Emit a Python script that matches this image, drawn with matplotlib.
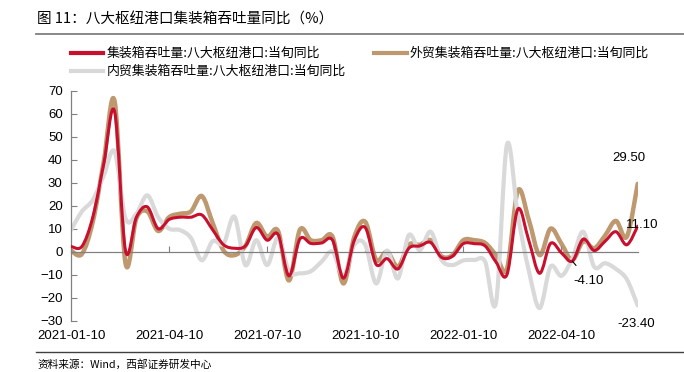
import numpy as np
import pandas as pd
import matplotlib
matplotlib.use("Agg")
import matplotlib.pyplot as plt
from matplotlib.path import Path
from matplotlib.patches import PathPatch
from matplotlib.lines import Line2D

plt.rcParams['font.family'] = ['Liberation Sans', 'Noto Sans CJK SC', 'DejaVu Sans']
CJK = ['Noto Sans CJK SC', 'DejaVu Sans']

# ----------------------------------------------------
# Data (当旬同比, %)
# ----------------------------------------------------

dates = [d.strftime("%Y-%m-%d") for m in pd.period_range("2021-01", "2022-06", freq="M")
         for d in (m.start_time + pd.Timedelta(days=9), m.start_time + pd.Timedelta(days=19), m.end_time.normalize())][:53]

tick_labels = ["2021-01-10", "2021-04-10", "2021-07-10", "2021-10-10", "2022-01-10", "2022-04-10"]

red = [2.3, 2.3, 15, 38, 61, 0.5, 15, 19.5, 10, 14,
       15, 15, 16, 9.5, 3, 1.5, 2.5, 10.5, 5, 7.5,
       -10.5, 5.5, 3.6, 3.8, 5, -11.5, 5, 10.5, -5.5, -3,
       -7.5, 1.5, 2.5, 4, -2.5, -2, 3.5, 3.5, 2.5, -4.5,
       -10, 18.5, 5, -9.4, 3.6, -0.5, -4.1, 5.5, 0.5, 4.5,
       8.7, 3, 11.1]

tan = [0.5, -1, 13, 39, 65.5, -5, 14.5, 17.5, 9, 15,
       16.5, 17.5, 24.2, 12.5, 0.5, -1.5, 2.5, 12.5, 6.5, 9,
       -12.5, 9.5, 5, 5, 6.5, -13.8, 6.5, 13, -3.5, 0,
       -6.5, 3, 3, 5, -2, -1.5, 5, 5, 3.8, -1.5,
       -7.5, 26.5, 14, -1.5, 10, 3.5, -3.6, 4.5, 1.5, 7,
       13.4, 6.5, 29.5]

gray = [9.5, 17.5, 22.5, 33, 43.5, 14.5, 16.5, 24.5, 15, 10,
        9.4, 6, -3.7, 4.6, 3.5, 15.2, -5.8, 5, -5.8, 6,
        -8.5, -9.4, -8.5, -4.3, 0, -10.5, 3, 3, -13.8, 0.5,
        -11.6, 7.2, 0.7, 8.7, -3.6, -5.8, -3.8, -3.6, -4.3, -22,
        46.5, 16, -8, -24.5, -6.5, -10.5, -3, 8.7, -6.5, -5,
        -7.5, -12, -23.4]

names = ["集装箱吞吐量:八大枢纽港口:当旬同比",
         "外贸集装箱吞吐量:八大枢纽港口:当旬同比",
         "内贸集装箱吞吐量:八大枢纽港口:当旬同比"]

C_RED = "#C8102E"
C_TAN = "#BE986F"
C_GRAY = "#D9D9D9"

# ----------------------------------------------------
# Smoothed line (Catmull-Rom -> cubic Bezier)
# ----------------------------------------------------

def smooth_path(xs, ys):
    n = len(xs)
    verts = [(xs[0], ys[0])]
    codes = [Path.MOVETO]
    for k in range(n - 1):
        a, b = max(k - 1, 0), min(k + 2, n - 1)
        c1 = (xs[k] + (xs[k + 1] - xs[a]) / 6, ys[k] + (ys[k + 1] - ys[a]) / 6)
        c2 = (xs[k + 1] - (xs[b] - xs[k]) / 6, ys[k + 1] - (ys[b] - ys[k]) / 6)
        verts += [c1, c2, (xs[k + 1], ys[k + 1])]
        codes += [Path.CURVE4] * 3
    return Path(verts, codes)


x = np.arange(len(dates))

fig = plt.figure(figsize=(6.84, 3.72), dpi=100)
ax = fig.add_axes([71 / 684, 1 - 320.7 / 372, (637.7 - 71) / 684, (320.7 - 90.7) / 372])

series = [(tan, C_TAN, 3.2, 1), (gray, C_GRAY, 3.0, 2), (red, C_RED, 2.2, 3)]
for vals, col, lw, z in series:
    ax.add_patch(PathPatch(smooth_path(x, np.array(vals, float)), fill=False,
                           edgecolor=col, lw=lw, zorder=z,
                           capstyle='round', joinstyle='round'))

ax.set_xlim(0, len(dates) - 1)
ax.set_ylim(-30, 70)
ax.set_yticks(range(-30, 71, 10))

# axes styling
for s in ["top", "right"]:
    ax.spines[s].set_visible(False)
ax.spines["left"].set_color("#808080")
ax.spines["bottom"].set_color("#808080")
ax.spines["bottom"].set_position(("data", 0))
ax.spines["left"].set_linewidth(0.9)
ax.spines["bottom"].set_linewidth(0.9)

tick_pos = [dates.index(t) for t in tick_labels]
ax.set_xticks(tick_pos)
ax.tick_params(axis="x", direction="in", length=4, color="#808080", labelbottom=False)
ax.tick_params(axis="y", direction="in", length=4, color="#808080", labelsize=9.5, pad=6)

sec = ax.secondary_xaxis(0)
sec.set_xticks(tick_pos)
sec.set_xticklabels(tick_labels, fontsize=9.5)
sec.tick_params(length=0, pad=7)
sec.spines["bottom"].set_visible(False)

# ----------------------------------------------------
# End-value labels
# ----------------------------------------------------

ax.annotate(f"{tan[-1]:.2f}", (x[-1], tan[-1]), xytext=(-6, 14),
            textcoords="offset points", ha="center", va="bottom", fontsize=9.5)
ax.annotate(f"{red[-1]:.2f}", (x[-1], red[-1]), xytext=(3, 1),
            textcoords="offset points", ha="center", va="center", fontsize=9.5)
ax.annotate(f"{gray[-1]:.2f}", (x[-1], gray[-1]), xytext=(-1, -13),
            textcoords="offset points", ha="center", va="center", fontsize=9.5)
ax.annotate(f"{red[46]:.2f}", (x[46], red[46]), xytext=(12, -14),
            textcoords="offset points", ha="center", va="center", fontsize=9.5,
            arrowprops=dict(arrowstyle="-", color="black", lw=0.8, shrinkA=6, shrinkB=0))

# ----------------------------------------------------
# Legend, title, source
# ----------------------------------------------------

handles = [Line2D([], [], color=C_RED, lw=3),
           Line2D([], [], color=C_GRAY, lw=3),
           Line2D([], [], color=C_TAN, lw=3)]
fig.legend(handles, [names[0], names[2], names[1]], ncol=2, loc="upper left",
           bbox_to_anchor=(62 / 684, 1 - 38 / 372), frameon=False,
           prop=dict(family=CJK, size=9.3), handlelength=2.5, handletextpad=0.25,
           columnspacing=2.2, labelspacing=0.4, borderpad=0.2)

fig.text(37 / 684, 1 - 20 / 372, "图 11：八大枢纽港口集装箱吞吐量同比（%）",
         family=CJK, fontsize=10.5, va="center", ha="left")
fig.add_artist(Line2D([36 / 684, 1], [1 - 34 / 372] * 2, color="#7F7F7F", lw=1.3))
fig.add_artist(Line2D([36 / 684, 1], [1 - 352 / 372] * 2, color="#404040", lw=1.0))
fig.text(37 / 684, 1 - 365 / 372, "资料来源：Wind，西部证券研发中心",
         family=CJK, fontsize=7.7, va="center", ha="left")

fig.savefig("out.png", dpi=100)
plt.close(fig)
